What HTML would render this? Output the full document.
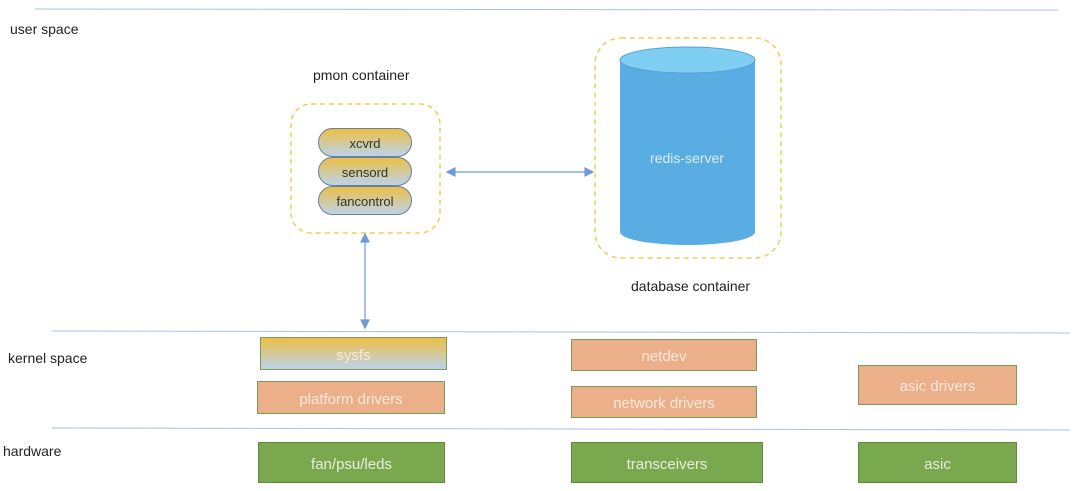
<!DOCTYPE html>
<html><head><style>
body{margin:0;width:1080px;height:491px;background:#fff;position:relative;overflow:hidden;font-family:"Liberation Sans",sans-serif}
.t{position:absolute;font-size:14px;color:#222}
.b{position:absolute;display:flex;align-items:center;justify-content:center;color:#fbe8dc;font-size:15px;box-sizing:border-box;padding-top:3px}
.o{background:#ebb08a;border:1px solid #7a9a5a}
.g{background:#79a84f;border:1px solid #5f8a3c;color:#e6f0dc}
.pill{position:absolute;left:318px;width:94px;height:29px;border-radius:15px;border:1.5px solid #6a7f9a;box-sizing:border-box;background:linear-gradient(#ecbf45,#bcd3ec);display:flex;align-items:center;justify-content:center;font-size:13px;color:#333;padding-top:2px}
</style></head><body>
<svg width="1080" height="491" style="position:absolute;left:0;top:0">
<line x1="35" y1="9" x2="1058" y2="10" stroke="#a9c1e3" stroke-width="1"/>
<line x1="52" y1="331" x2="1070" y2="333" stroke="#a9c1e3" stroke-width="1"/>
<line x1="52" y1="428" x2="1070" y2="430" stroke="#a9c1e3" stroke-width="1"/>
<rect x="291" y="104" width="149" height="129" rx="20" fill="none" stroke="#f2cc56" stroke-width="1.5" stroke-dasharray="5,4"/>
<rect x="595" y="38" width="186" height="220" rx="26" fill="none" stroke="#f2cc56" stroke-width="1.5" stroke-dasharray="5,4"/>
<path d="M620 60 V232 A67.5 13 0 0 0 755 232 V60 Z" fill="#5aade3"/>
<ellipse cx="687.5" cy="60" rx="67.5" ry="13" fill="#7fcff2" stroke="#5aa0d6" stroke-width="1"/>
<g stroke="#6d9bd6" stroke-width="1.2" fill="#6d9bd6">
<line x1="452" y1="172" x2="588" y2="172"/>
<polygon points="447,172 455,168 455,176"/><polygon points="593,172 585,168 585,176"/>
<line x1="365" y1="239" x2="365" y2="322"/>
<polygon points="365,234 361,242 369,242"/><polygon points="365,328 361,320 369,320"/>
</g>
<text x="687" y="163" font-size="14" fill="#d8ecfa" text-anchor="middle" font-family="Liberation Sans">redis-server</text>
</svg>
<div class="t" style="left:10px;top:21px">user space</div>
<div class="t" style="left:8px;top:350px">kernel space</div>
<div class="t" style="left:3px;top:443px">hardware</div>
<div class="t" style="left:313px;top:67px">pmon container</div>
<div class="t" style="left:631px;top:278px">database container</div>
<div class="pill" style="top:128px">xcvrd</div>
<div class="pill" style="top:157px">sensord</div>
<div class="pill" style="top:186px">fancontrol</div>
<div class="b" style="left:260px;top:337px;width:187px;height:33px;background:linear-gradient(#ecbf45,#bcd3ec);border:1px solid #7a9a5a">sysfs</div>
<div class="b o" style="left:257px;top:381px;width:188px;height:33px">platform drivers</div>
<div class="b g" style="left:258px;top:442px;width:187px;height:41px">fan/psu/leds</div>
<div class="b o" style="left:571px;top:339px;width:186px;height:32px">netdev</div>
<div class="b o" style="left:571px;top:386px;width:186px;height:32px">network drivers</div>
<div class="b o" style="left:858px;top:365px;width:159px;height:40px">asic drivers</div>
<div class="b g" style="left:571px;top:442px;width:192px;height:41px">transceivers</div>
<div class="b g" style="left:858px;top:442px;width:159px;height:41px">asic</div>
</body></html>
